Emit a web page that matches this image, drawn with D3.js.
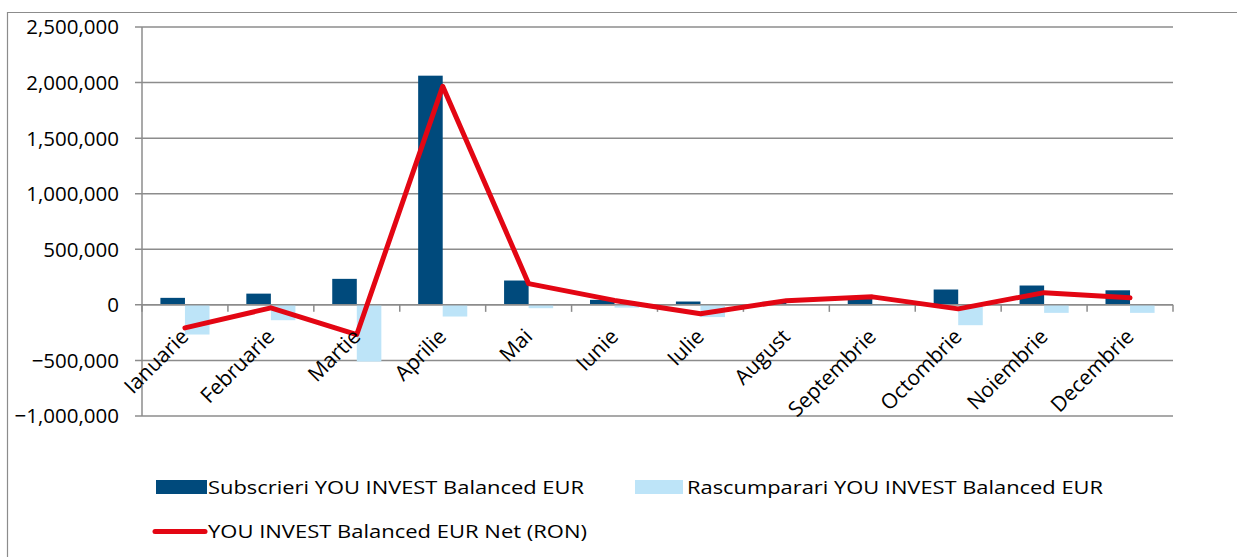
<!DOCTYPE html>
<html>
<head>
<meta charset="utf-8">
<script src="https://cdn.jsdelivr.net/npm/d3@7"></script>
<style>
  body { margin: 0; background: #fff; }
  text { font-family: "Open Sans", sans-serif; fill: #000; }
</style>
</head>
<body>
<svg id="vis" width="1237" height="557"></svg>
<script>
const months = ["Ianuarie", "Februarie", "Martie", "Aprilie", "Mai", "Iunie",
                "Iulie", "August", "Septembrie", "Octombrie", "Noiembrie", "Decembrie"];
const subscrieri = [63000, 101000, 234000, 2062000, 219000, 45000,
                    30000, 27000, 60000, 138000, 174000, 131000];
const rascumparari = [-267000, -138000, -510000, -105000, -30000, -25000,
                      -110000, -3000, -10000, -183000, -72000, -72000];
const net = [-207000, -27000, -267000, 1966000, 191000, 40000,
             -80000, 38000, 72000, -36000, 110000, 63000];
const yTicks = [-1000000, -500000, 0, 500000, 1000000, 1500000, 2000000, 2500000];
const seriesNames = ["Subscrieri YOU INVEST Balanced EUR",
                     "Rascumparari YOU INVEST Balanced EUR",
                     "YOU INVEST Balanced EUR Net (RON)"];

const darkBlue = "#004a7c", lightBlue = "#bde4f8", red = "#e30613", grid = "#8c8c8c";

let svg = d3.select("#vis");

// outer frame
svg.append("path")
  .attr("d", "M7.5,557 V12.5 H1237")
  .attr("fill", "none")
  .attr("stroke", "#8c8c8c")
  .attr("stroke-width", 1.2);

let x = d3.scaleBand().domain(months).range([142, 1173]);
let y = d3.scaleLinear().domain([-1000000, 2500000]).range([416, 27]);
let inner = d3.scaleBand().domain([0, 1]).range([0, x.bandwidth()]).paddingInner(0).paddingOuter(0.75);

// gridlines with y ticks
svg.append("g")
  .selectAll("line")
  .data(yTicks)
  .enter()
  .append("line")
  .attr("x1", 135)
  .attr("x2", 1173)
  .attr("y1", d => y(d))
  .attr("y2", d => y(d))
  .attr("stroke", grid)
  .attr("stroke-width", 1.5);

svg.append("g")
  .selectAll("text")
  .data(yTicks)
  .enter()
  .append("text")
  .attr("x", 119)
  .attr("y", d => y(d))
  .attr("dy", "0.36em")
  .attr("text-anchor", "end")
  .style("font-size", "20.5px")
  .text(d => d3.format(",")(d));

// y axis line
svg.append("line")
  .attr("x1", 142).attr("x2", 142)
  .attr("y1", y(2500000)).attr("y2", y(-1000000))
  .attr("stroke", grid)
  .attr("stroke-width", 1.5);

// bars
svg.append("g")
  .selectAll("rect")
  .data(subscrieri)
  .enter()
  .append("rect")
  .attr("x", (d, i) => x(months[i]) + inner(0))
  .attr("width", inner.bandwidth())
  .attr("y", d => y(Math.max(0, d)))
  .attr("height", d => Math.abs(y(d) - y(0)))
  .attr("fill", darkBlue);

svg.append("g")
  .selectAll("rect")
  .data(rascumparari)
  .enter()
  .append("rect")
  .attr("x", (d, i) => x(months[i]) + inner(1))
  .attr("width", inner.bandwidth())
  .attr("y", d => y(Math.max(0, d)))
  .attr("height", d => Math.abs(y(d) - y(0)))
  .attr("fill", lightBlue);

// zero axis with category ticks
svg.append("line")
  .attr("x1", 142).attr("x2", 1173)
  .attr("y1", y(0)).attr("y2", y(0))
  .attr("stroke", grid)
  .attr("stroke-width", 1.5);

svg.append("g")
  .selectAll("line")
  .data(d3.range(months.length + 1))
  .enter()
  .append("line")
  .attr("x1", i => 142 + i * x.step())
  .attr("x2", i => 142 + i * x.step())
  .attr("y1", y(0))
  .attr("y2", y(0) + 7)
  .attr("stroke", grid)
  .attr("stroke-width", 1.5);

// net line
let line = d3.line()
  .x((d, i) => x(months[i]) + x.bandwidth() / 2)
  .y(d => y(d));

svg.append("path")
  .datum(net)
  .attr("d", line)
  .attr("fill", "none")
  .attr("stroke", red)
  .attr("stroke-width", 5)
  .attr("stroke-linejoin", "round")
  .attr("stroke-linecap", "round");

// category labels
svg.append("g")
  .selectAll("text")
  .data(months)
  .enter()
  .append("text")
  .attr("transform", d => `translate(${x(d) + x.bandwidth() / 2 + 5},${y(0) + 33}) rotate(-45)`)
  .attr("text-anchor", "end")
  .style("font-size", "21px")
  .text(d => d);

// legend
let legend = svg.append("g");
legend.append("rect").attr("x", 156).attr("y", 480).attr("width", 51).attr("height", 14).attr("fill", darkBlue);
legend.append("text").attr("x", 208).attr("y", 487).attr("dy", "0.35em").style("font-size", "19px")
  .attr("textLength", 376).attr("lengthAdjust", "spacingAndGlyphs").text(seriesNames[0]);
legend.append("rect").attr("x", 635).attr("y", 480).attr("width", 48).attr("height", 14).attr("fill", lightBlue);
legend.append("text").attr("x", 687).attr("y", 487).attr("dy", "0.35em").style("font-size", "19px")
  .attr("textLength", 416).attr("lengthAdjust", "spacingAndGlyphs").text(seriesNames[1]);
legend.append("line").attr("x1", 155).attr("x2", 205).attr("y1", 531.5).attr("y2", 531.5)
  .attr("stroke", red).attr("stroke-width", 5).attr("stroke-linecap", "round");
legend.append("text").attr("x", 208).attr("y", 531.5).attr("dy", "0.35em").style("font-size", "19px")
  .attr("textLength", 379).attr("lengthAdjust", "spacingAndGlyphs").text(seriesNames[2]);
</script>
</body>
</html>
